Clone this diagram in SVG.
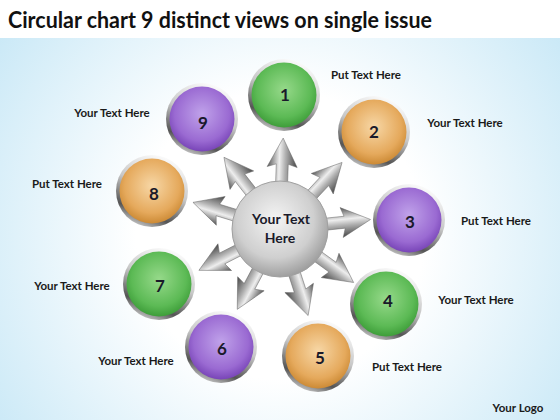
<svg xmlns="http://www.w3.org/2000/svg" width="560" height="420" viewBox="0 0 560 420">
  <defs>
    <radialGradient id="bg" cx="280" cy="235" r="360" gradientUnits="userSpaceOnUse">
      <stop offset="0.4" stop-color="#ffffff"/>
      <stop offset="1" stop-color="#c6e7f6"/>
    </radialGradient>
    <linearGradient id="ring" x1="0.7" y1="0" x2="0.3" y2="1">
      <stop offset="0" stop-color="#ffffff"/>
      <stop offset="0.45" stop-color="#c8c8c8"/>
      <stop offset="0.8" stop-color="#555555"/>
      <stop offset="1" stop-color="#d0d0d0"/>
    </linearGradient>
    <radialGradient id="green" cx="0.5" cy="0.42" r="0.6">
      <stop offset="0" stop-color="#96d98a"/>
      <stop offset="0.7" stop-color="#5cba55"/>
      <stop offset="1" stop-color="#3a9a36"/>
    </radialGradient>
    <radialGradient id="purple" cx="0.5" cy="0.42" r="0.6">
      <stop offset="0" stop-color="#c0a2ea"/>
      <stop offset="0.7" stop-color="#9a6ad2"/>
      <stop offset="1" stop-color="#7440b4"/>
    </radialGradient>
    <radialGradient id="orange" cx="0.5" cy="0.42" r="0.6">
      <stop offset="0" stop-color="#f7d7a6"/>
      <stop offset="0.7" stop-color="#e5a95c"/>
      <stop offset="1" stop-color="#c98630"/>
    </radialGradient>
    <radialGradient id="hub" cx="0.45" cy="0.4" r="0.62">
      <stop offset="0" stop-color="#f4f4f4"/>
      <stop offset="0.65" stop-color="#cfcfcf"/>
      <stop offset="1" stop-color="#9a9a9a"/>
    </radialGradient>
    <linearGradient id="metal" x1="0" y1="0" x2="0" y2="1">
      <stop offset="0" stop-color="#555555"/>
      <stop offset="0.4" stop-color="#eeeeee"/>
      <stop offset="0.6" stop-color="#b0b0b0"/>
      <stop offset="1" stop-color="#454545"/>
    </linearGradient>
    <path id="arr" d="M0,-6 L65,-6 L62,-15 L91,0 L62,15 L65,6 L0,6 Z"/>
  </defs>
  <style>
    .lbl { font-family: Lato, "Liberation Sans", sans-serif; font-weight: bold; font-size: 11.5px; fill: #1a1a1a; text-anchor: middle; }
    .num { font-family: Lato, "Liberation Sans", sans-serif; font-weight: bold; font-size: 17px; fill: #1a1a2a; text-anchor: middle; }
    .title { font-family: Lato, "Liberation Sans", sans-serif; font-weight: bold; font-size: 22px; fill: #111111; }
    .ring { fill: url(#ring); }
    .arrow { fill: url(#metal); stroke: #666666; stroke-width: 0.5; }
  </style>

  <rect x="0" y="0" width="560" height="420" fill="#ffffff"/>
  <rect x="0" y="38" width="560" height="382" fill="url(#bg)"/>

  <text class="title" x="8" y="28" textLength="424" lengthAdjust="spacingAndGlyphs">Circular chart 9 distinct views on single issue</text>

  <g id="connectors">
    <use href="#arr" class="arrow" transform="translate(280,229) rotate(-88)"/>
    <use href="#arr" class="arrow" transform="translate(280,229) rotate(-47)"/>
    <use href="#arr" class="arrow" transform="translate(280,229) rotate(-6)"/>
    <use href="#arr" class="arrow" transform="translate(280,229) rotate(36)"/>
    <use href="#arr" class="arrow" transform="translate(280,229) rotate(72)"/>
    <use href="#arr" class="arrow" transform="translate(280,229) rotate(118)"/>
    <use href="#arr" class="arrow" transform="translate(280,229) rotate(153)"/>
    <use href="#arr" class="arrow" transform="translate(280,229) rotate(197)"/>
    <use href="#arr" class="arrow" transform="translate(280,229) rotate(232)"/>
  </g>

  <g id="center">
    <circle cx="280" cy="229" r="48" fill="url(#hub)" stroke="#a0a0a0" stroke-width="1"/>
    <text class="num" x="281" y="224" style="font-size:14px">Your Text</text>
    <text class="num" x="280" y="243" style="font-size:14px">Here</text>
  </g>

  <g id="node1">
    <circle class="ring" cx="284" cy="95" r="36"/>
    <circle cx="284" cy="95" r="32.5" fill="url(#green)"/>
    <text class="num" x="285" y="101">1</text>
    <text class="lbl" x="366" y="79">Put Text Here</text>
  </g>
  <g id="node2">
    <circle class="ring" cx="374" cy="132" r="36"/>
    <circle cx="374" cy="132" r="32.5" fill="url(#orange)"/>
    <text class="num" x="374" y="138">2</text>
    <text class="lbl" x="465" y="127">Your Text Here</text>
  </g>
  <g id="node3">
    <circle class="ring" cx="409" cy="220" r="36"/>
    <circle cx="409" cy="220" r="32.5" fill="url(#purple)"/>
    <text class="num" x="410" y="228">3</text>
    <text class="lbl" x="496" y="225">Put Text Here</text>
  </g>
  <g id="node4">
    <circle class="ring" cx="386" cy="304" r="36"/>
    <circle cx="386" cy="304" r="32.5" fill="url(#green)"/>
    <text class="num" x="388" y="307">4</text>
    <text class="lbl" x="476" y="304">Your Text Here</text>
  </g>
  <g id="node5">
    <circle class="ring" cx="318" cy="356" r="36"/>
    <circle cx="318" cy="356" r="32.5" fill="url(#orange)"/>
    <text class="num" x="320" y="364">5</text>
    <text class="lbl" x="407" y="371">Put Text Here</text>
  </g>
  <g id="node6">
    <circle class="ring" cx="221" cy="347" r="36"/>
    <circle cx="221" cy="347" r="32.5" fill="url(#purple)"/>
    <text class="num" x="222" y="355">6</text>
    <text class="lbl" x="136" y="365">Your Text Here</text>
  </g>
  <g id="node7">
    <circle class="ring" cx="159" cy="284" r="36"/>
    <circle cx="159" cy="284" r="32.5" fill="url(#green)"/>
    <text class="num" x="160" y="292">7</text>
    <text class="lbl" x="72" y="290">Your Text Here</text>
  </g>
  <g id="node8">
    <circle class="ring" cx="152" cy="191" r="36"/>
    <circle cx="152" cy="191" r="32.5" fill="url(#orange)"/>
    <text class="num" x="154" y="200">8</text>
    <text class="lbl" x="67" y="188">Put Text Here</text>
  </g>
  <g id="node9">
    <circle class="ring" cx="202" cy="119" r="36"/>
    <circle cx="202" cy="119" r="32.5" fill="url(#purple)"/>
    <text class="num" x="203" y="129">9</text>
    <text class="lbl" x="112" y="117">Your Text Here</text>
  </g>

  <text class="lbl" x="518" y="412">Your Logo</text>
</svg>
